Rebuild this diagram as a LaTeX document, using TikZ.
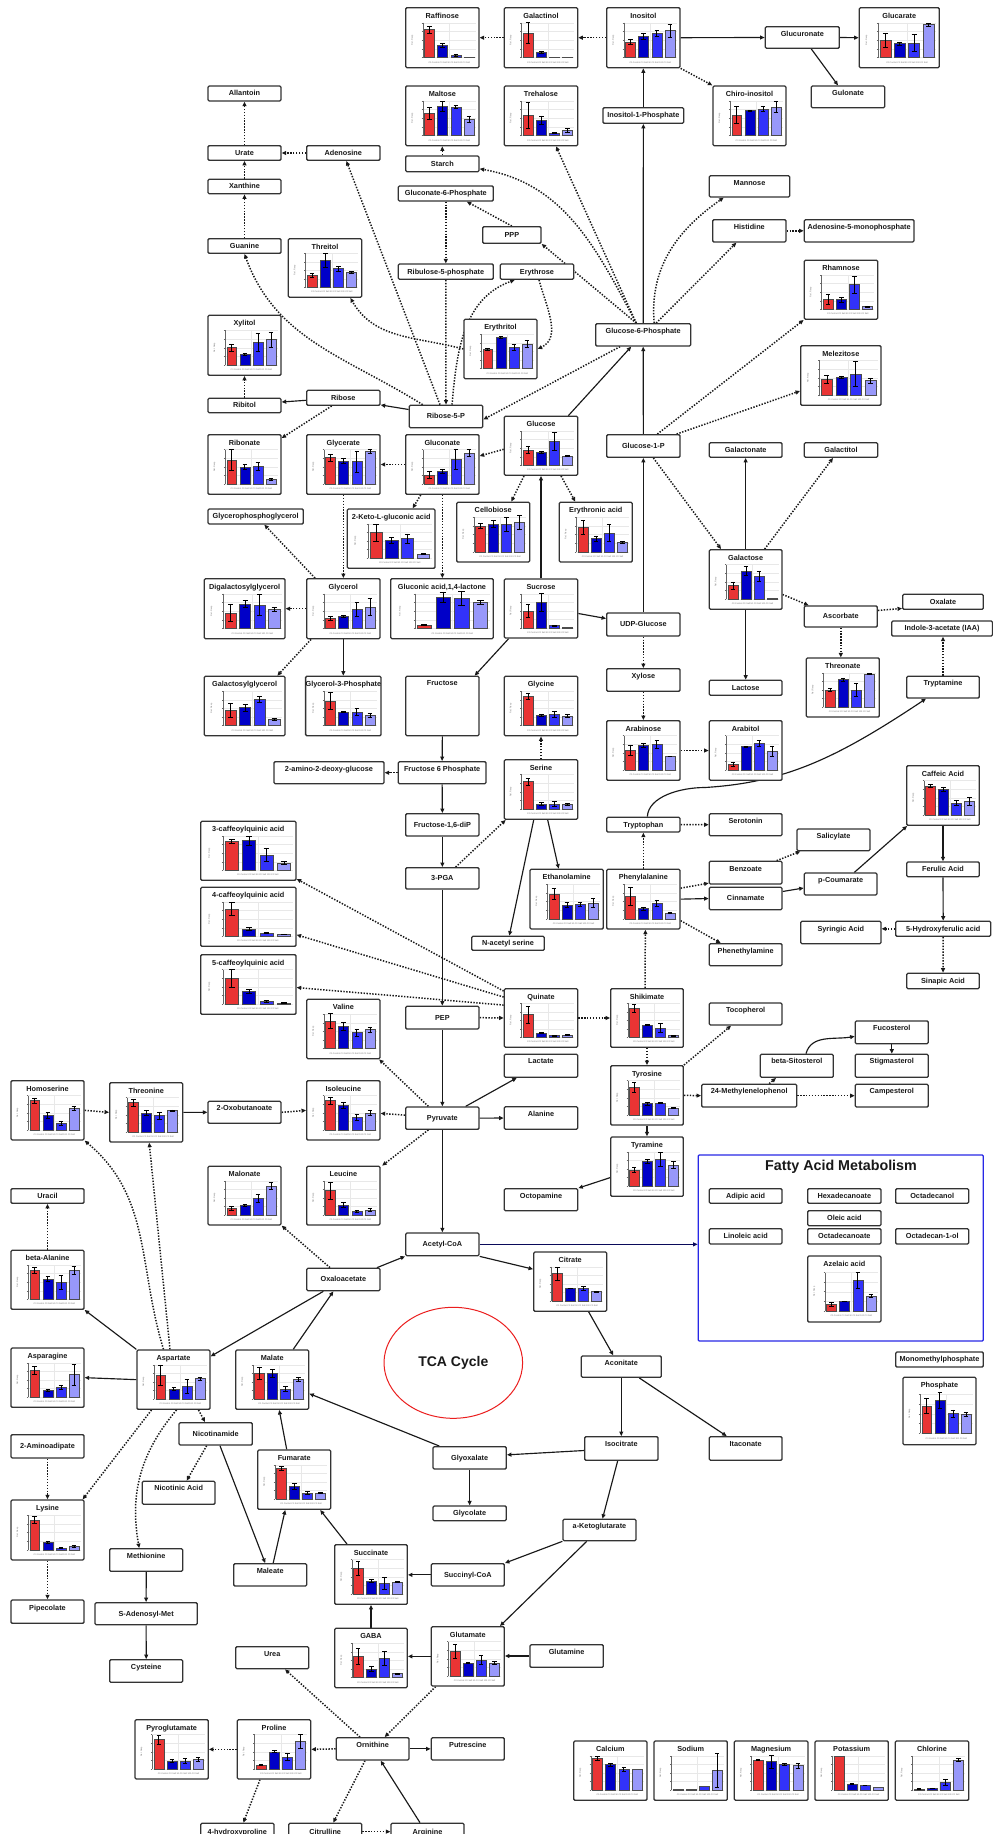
\documentclass[tikz,border=0pt]{standalone}
\usepackage{fontspec}
\setmainfont{Liberation Sans}
\usetikzlibrary{arrows.meta,calc,shapes.geometric}
\pgfdeclarelayer{bg}
\pgfsetlayers{bg,main}

\definecolor{barA}{RGB}{233,52,52}
\definecolor{barB}{RGB}{0,0,200}
\definecolor{barC}{RGB}{50,50,250}
\definecolor{barD}{RGB}{152,152,250}
\definecolor{fablue}{RGB}{40,40,230}
\definecolor{navyline}{RGB}{10,10,90}
\definecolor{tcared}{RGB}{235,30,30}

\tikzset{
  bx/.style={draw=black!80,line width=1.3pt,rounded corners=1.2pt,fill=white,inner sep=0pt,
    font=\fontsize{7.3}{8}\selectfont\bfseries,text=black!90,text height=5.3pt,text depth=0.6pt},
  tb/.code={\pgfmathsetmacro\tdp{\bxH-#1}\tikzset{inner ysep=0pt,text height=#1pt,text depth=\tdp pt}},
  sl/.style={draw=black!90,line width=1.15pt,-{Triangle[length=4.5pt,width=3.9pt]}},
  dl/.style={sl,line width=1.5pt,dash pattern=on 1.4pt off 1.5pt},
  nv/.style={sl,draw=navyline},
  gridln/.style={draw=gray!18,line width=0.3pt},
  axisln/.style={draw=black!60,line width=0.35pt},
  tinytxt/.style={font=\fontsize{2.2}{2.4}\selectfont,text=black!55,inner sep=0pt},
}

% plain box: [options]{name}{x1}{y1}{x2}{y2}{text}
\newcommand\bx[7][]{%
  \pgfmathsetmacro\bxW{#5-#3}\pgfmathsetmacro\bxH{#6-#4}%
  \node[bx,minimum width=\bxW pt,minimum height=\bxH pt,#1] (#2) at ({(#3+#5)/2},{(#4+#6)/2}) {#7};}

% box with a bar chart: {name}{x1}{y1}{x2}{y2}{title}{h/e,h/e,h/e,h/e}
\newcommand\chart[7]{%
  \bx[tb=10.6]{#1}{#2}{#3}{#4}{#5}{#6}%
  \begin{scope}[shift={(#2,#3)}]
    \pgfmathsetmacro\pL{0.235*\bxW}\pgfmathsetmacro\pR{\bxW-3.5}%
    \pgfmathsetmacro\pT{0.25*\bxH}\pgfmathsetmacro\pB{0.83*\bxH}%
    \pgfmathsetmacro\pS{(\pR-\pL)/4}\pgfmathsetmacro\pH{\pB-\pT}%
    \foreach \f in {0,0.25,0.5,0.75,1}{\draw[gridln] (\pL,{\pB-\f*\pH}) -- (\pR,{\pB-\f*\pH});}
    \draw[gridln] ({\pL+2*\pS},\pT) -- ({\pL+2*\pS},\pB);
    \draw[axisln] (\pL,\pT) -- (\pL,\pB);
    \foreach \f in {0,0.25,0.5,0.75,1}{\draw[axisln] ({\pL-1.2},{\pB-\f*\pH}) -- (\pL,{\pB-\f*\pH});}
    \node[tinytxt,rotate=90] (#1-y) at ({0.09*\bxW},{(\pT+\pB)/2}) {Rel. Resp};
    \node[tinytxt] (#1-x) at ({(\pL+\pR)/2},{0.91*\bxH}) {C0 Control C0 Salt 50 C0 Salt 100 C0 Salt};
    \foreach \hh/\ee [count=\i] in {#7}{%
      \pgfmathsetmacro\cxx{\pL+(\i-0.5)*\pS}%
      \pgfmathsetmacro\btp{\pB-\hh*\pH}%
      \pgfmathsetmacro\bwd{0.38*\pS}%
      \ifcase\i\or\def\bcol{barA}\or\def\bcol{barB}\or\def\bcol{barC}\or\def\bcol{barD}\fi
      \draw[fill=\bcol,draw=black!70,line width=0.45pt] ({\cxx-\bwd},\pB) rectangle ({\cxx+\bwd},\btp);
      \ifdim\ee pt>0pt
        \pgfmathsetmacro\ehh{\ee*\pH}%
        \draw[line width=0.6pt] (\cxx,{\btp-\ehh}) -- (\cxx,{\btp+\ehh})
          ({\cxx-0.45*\bwd},{\btp-\ehh}) -- ({\cxx+0.45*\bwd},{\btp-\ehh})
          ({\cxx-0.45*\bwd},{\btp+\ehh}) -- ({\cxx+0.45*\bwd},{\btp+\ehh});
      \fi
    }
  \end{scope}}

\begin{document}
\begin{tikzpicture}[x=1pt,y=-1pt]
\useasboundingbox (0,0) rectangle (993,1834);
\begin{pgfonlayer}{bg}
  \fill[white] (0,0) rectangle (993,1834);
\end{pgfonlayer}

% fatty acid frame and TCA ring
\node[draw=fablue,line width=1.3pt,rounded corners=1pt,minimum width=285pt,minimum height=186pt,inner sep=0pt] (fam) at (840.8,1248) {};
\node[font=\fontsize{14.3}{16}\selectfont\bfseries,text=black!90] (famtitle) at (841,1166.3) {Fatty Acid Metabolism};
\node[ellipse,draw=tcared,line width=1pt,minimum width=138.6pt,minimum height=111pt,inner sep=0pt,
  font=\fontsize{14}{16}\selectfont\bfseries,text=black!90] (tca) at (453.3,1362.8) {TCA Cycle};

% plain boxes
\bx{allantoin}{208}{86}{281}{101}{Allantoin}
\bx{urate}{208}{145.7}{281}{160.3}{Urate}
\bx{adenosine}{306.7}{145.7}{380}{160.3}{Adenosine}
\bx{starch}{405.7}{156}{479}{171.7}{Starch}
\bx{xanthine}{208}{179.3}{281}{193.7}{Xanthine}
\bx{gnp}{398.3}{186}{493.3}{201}{Gluconate-6-Phosphate}
\bx{ppp}{482.7}{226.7}{541}{243.3}{PPP}
\bx{guanine}{208}{238.7}{281}{253.3}{Guanine}
\bx{rufp}{398.3}{264}{493.3}{279.3}{Ribulose-5-phosphate}
\bx{erythrose}{500.3}{264}{573.7}{279.3}{Erythrose}
\bx[tb=9.4]{glucuronate}{765.3}{26.7}{839.3}{48.3}{Glucuronate}
\bx[tb=9.4]{gulonate}{811.3}{86}{884.7}{107.7}{Gulonate}
\bx{inop}{603}{107.7}{683.7}{123.3}{Inositol-1-Phosphate}
\bx[tb=9.4]{mannose}{709.3}{175.7}{789.7}{197}{Mannose}
\bx[tb=9.4]{histidine}{712.7}{219.7}{786}{242}{Histidine}
\bx[tb=9.4]{amp}{804.3}{219.7}{914}{242}{Adenosine-5-monophosphate}
\bx[tb=9.6]{gsp}{595.7}{323.7}{690.7}{346}{Glucose-6-Phosphate}
\bx{ribitol}{208}{398.3}{281}{412.7}{Ribitol}
\bx{ribose}{306.7}{390.3}{380}{405.3}{Ribose}
\bx{rfp}{409.3}{405.3}{482.7}{427.7}{Ribose-5-P}
\bx{gop}{606.7}{434.7}{680}{457.3}{Glucose-1-P}
\bx{galactonate}{709.3}{442.7}{782}{457.3}{Galactonate}
\bx{galactitol}{804.3}{442.7}{877.7}{457.3}{Galactitol}
\bx{gpg}{208}{509}{303.3}{524}{Glycerophosphoglycerol}
\bx{oxalate}{902.7}{594.3}{983.3}{609.3}{Oxalate}
\bx{ascorbate}{804.3}{606}{877.3}{627}{Ascorbate}
\bx{udpg}{606.7}{613}{680}{636}{UDP-Glucose}
\bx{iaa}{891.7}{621}{992.5}{636}{Indole-3-acetate (IAA)}
\bx[tb=9]{fructose}{405.7}{676.3}{479}{735.7}{Fructose}
\bx[tb=9.8]{xylose}{606.7}{668.7}{680}{691.3}{Xylose}
\bx{lactose}{709.3}{680.3}{782}{695.3}{Lactose}
\bx[tb=9]{tryptamine}{906.7}{676.3}{979.3}{698}{Tryptamine}
\bx[tb=9.8]{amdg}{274}{761.7}{384}{783.7}{2-amino-2-deoxy-glucose}
\bx[tb=9.8]{fsp}{398.3}{761.7}{486}{783.7}{Fructose 6 Phosphate}
\bx{fdp}{405.7}{813.7}{479}{836}{Fructose-1,6-diP}
\bx{tryptophan}{606.7}{817.3}{680}{832}{Tryptophan}
\bx[tb=9.4]{serotonin}{709.3}{813.7}{782}{835.7}{Serotonin}
\bx[tb=9.4]{salicylate}{797}{829}{870}{850.7}{Salicylate}
\bx[tb=10.2]{benzoate}{709.3}{861.3}{782}{884}{Benzoate}
\bx{ferulic}{906.7}{862}{979.3}{876.7}{Ferulic Acid}
\bx{pga}{405.7}{867.7}{479}{889}{3-PGA}
\bx[tb=9.8]{pcoum}{804.3}{873}{877}{895}{p-Coumarate}
\bx{cinnamate}{709.3}{887.3}{782}{909.7}{Cinnamate}
\bx[tb=10.2]{syringic}{800.7}{921.3}{881}{943.7}{Syringic Acid}
\bx{hferulic}{895.7}{921.3}{990.7}{936.3}{5-Hydroxyferulic acid}
\bx{nacetyl}{471.7}{936.3}{544.3}{950.3}{N-acetyl serine}
\bx[tb=9.4]{phenethyl}{709.3}{943.7}{782}{965.7}{Phenethylamine}
\bx{sinapic}{906.7}{973.3}{979.3}{988.7}{Sinapic Acid}
\bx[tb=9.4]{tocopherol}{709.3}{1003}{782}{1025}{Tocopherol}
\bx{pep}{405.7}{1006.3}{479}{1029}{PEP}
\bx[tb=9.4]{fucosterol}{855.3}{1021}{928.3}{1043.7}{Fucosterol}
\bx[tb=9.4]{betasito}{760.3}{1054.3}{833.3}{1077.3}{beta-Sitosterol}
\bx[tb=9.4]{stigma}{855.3}{1054.3}{928.3}{1077.3}{Stigmasterol}
\bx[tb=9.4]{lactate}{504.3}{1054.3}{577.7}{1077.3}{Lactate}
\bx[tb=9.4]{mlp}{701.7}{1084.3}{796.7}{1107}{24-Methylenelophenol}
\bx[tb=9.4]{campesterol}{855.3}{1084.3}{928.3}{1107}{Campesterol}
\bx[tb=9.4]{oxobut}{208}{1101.3}{281}{1123.3}{2-Oxobutanoate}
\bx{pyruvate}{405.7}{1107}{479}{1129.3}{Pyruvate}
\bx[tb=9.4]{alanine}{504.3}{1106.7}{577.7}{1129.3}{Alanine}
\bx{uracil}{11}{1188.7}{84}{1203.3}{Uracil}
\bx[tb=9.4]{octopamine}{504.3}{1188.7}{577.7}{1210.7}{Octopamine}
\bx{adipic}{709.3}{1188.7}{782}{1203.3}{Adipic acid}
\bx{hexadec}{807.7}{1188.7}{881}{1203.3}{Hexadecanoate}
\bx{octadecanol}{895.7}{1188.7}{968.7}{1203.3}{Octadecanol}
\bx{oleic}{807.7}{1210.7}{881}{1225.7}{Oleic acid}
\bx{linoleic}{709.3}{1228.7}{782}{1244}{Linoleic acid}
\bx{octadecanoate}{807.7}{1228.7}{881}{1244}{Octadecanoate}
\bx{octadecanonol}{895.7}{1228.7}{968.7}{1244}{Octadecan-1-ol}
\bx{acoa}{405.7}{1233}{479}{1255.7}{Acetyl-CoA}
\bx{oaa}{306.7}{1268.3}{380}{1290.7}{Oxaloacetate}
\bx{mmp}{895.7}{1352}{983.3}{1367}{Monomethylphosphate}
\bx[tb=9.2]{aconitate}{581.3}{1356}{661.3}{1377.3}{Aconitate}
\bx{nicotinamide}{179}{1422.7}{252.3}{1445}{Nicotinamide}
\bx{aminoadipate}{11}{1434.7}{84}{1458}{2-Aminoadipate}
\bx[tb=9.4]{isocitrate}{584.7}{1436.7}{658}{1460.3}{Isocitrate}
\bx[tb=9.4]{itaconate}{709.3}{1436.7}{782}{1460.3}{Itaconate}
\bx{glyoxalate}{433}{1446.7}{506.3}{1469}{Glyoxalate}
\bx[tb=9.4]{nicotinic}{142.3}{1481.3}{215}{1504.3}{Nicotinic Acid}
\bx{glycolate}{433}{1506}{506.3}{1520.7}{Glycolate}
\bx[tb=9.2]{akg}{563}{1519.3}{636}{1540.7}{a-Ketoglutarate}
\bx[tb=9.4]{methionine}{109.7}{1548.7}{182.7}{1571.3}{Methionine}
\bx[tb=9.4]{maleate}{233.7}{1563.7}{306.7}{1586}{Maleate}
\bx{succoa}{431.3}{1563.7}{504.3}{1586}{Succinyl-CoA}
\bx[tb=10.2]{pipecolate}{11}{1600}{84}{1623.3}{Pipecolate}
\bx{sam}{95}{1602.7}{197.3}{1624.7}{S-Adenosyl-Met}
\bx[tb=9.4]{glutamine}{530}{1644.7}{603.3}{1667.3}{Glutamine}
\bx[tb=9.4]{urea}{235.7}{1646.7}{308.7}{1668.7}{Urea}
\bx[tb=9.4]{cysteine}{109.7}{1659.7}{182.7}{1682.3}{Cysteine}
\bx[tb=9.4]{ornithine}{336.3}{1737.7}{409}{1760}{Ornithine}
\bx[tb=9.4]{putrescine}{431.3}{1737.7}{504.3}{1760}{Putrescine}
\bx[tb=11.2]{hyp}{200.7}{1823.3}{274}{1846}{4-hydroxyproline}
\bx[tb=11.2]{citrulline}{288.7}{1823.3}{361.7}{1846}{Citrulline}
\bx[tb=11.2]{arginine}{391}{1823.3}{464}{1846}{Arginine}

% boxes with bar charts
\chart{raff}{405.7}{7.7}{479}{67.7}{Raffinose}{0.8/0.1,0.35/0.05,0.06/0.02,0.01/0}
\chart{galactinol}{504.3}{7.7}{577.7}{67.7}{Galactinol}{0.7/0.3,0.15/0.04,0.02/0,0.01/0}
\chart{inositol}{606.7}{7.7}{680}{67.7}{Inositol}{0.45/0.07,0.6/0.09,0.7/0.09,0.77/0.19}
\chart{glucarate}{859.3}{7.7}{939.3}{67.7}{Glucarate}{0.5/0.2,0.4/0.05,0.42/0.25,0.95/0.04}
\chart{maltose}{405.7}{86}{479}{145.7}{Maltose}{0.65/0.17,0.84/0.15,0.83/0.05,0.47/0.1}
\chart{trehalose}{504.3}{86}{577.7}{145.7}{Trehalose}{0.58/0.38,0.45/0.12,0.08/0.02,0.15/0.05}
\chart{chiro}{713}{86}{786}{145.7}{Chiro-inositol}{0.6/0.25,0.72/0.01,0.77/0.08,0.83/0.17}
\chart{threitol}{288.3}{238.7}{361.7}{297.3}{Threitol}{0.35/0.05,0.8/0.2,0.55/0.08,0.45/0.03}
\chart{rhamnose}{804.3}{260.3}{877.7}{319.3}{Rhamnose}{0.3/0.15,0.28/0.08,0.72/0.25,0.08/0.02}
\chart{xylitol}{208}{315.3}{281}{375.3}{Xylitol}{0.5/0.1,0.3/0.03,0.65/0.25,0.73/0.22}
\chart{erythritol}{464}{319.3}{537}{378.7}{Erythritol}{0.55/0.03,0.9/0.03,0.62/0.1,0.72/0.1}
\chart{melezitose}{800.7}{345.7}{881}{405.3}{Melezitose}{0.45/0.12,0.53/0.03,0.62/0.35,0.42/0.08}
\chart{glucose}{504.3}{416.3}{577.7}{475.3}{Glucose}{0.45/0.1,0.38/0.02,0.7/0.27,0.27/0.02}
\chart{ribonate}{208}{434.7}{281}{494.3}{Ribonate}{0.7/0.3,0.5/0.08,0.52/0.12,0.14/0.03}
\chart{glycerate}{306.7}{434.7}{380}{494.3}{Glycerate}{0.77/0.1,0.67/0.08,0.65/0.3,0.95/0.05}
\chart{gluconate}{405.7}{434.7}{479}{494.3}{Gluconate}{0.27/0.1,0.38/0.06,0.72/0.3,0.9/0.1}
\chart{ketogluc}{347.3}{509}{435}{568.3}{2-Keto-L-gluconic acid}{0.75/0.25,0.52/0.08,0.57/0.14,0.12/0.02}
\chart{cellobiose}{456.7}{502.3}{529.7}{562}{Cellobiose}{0.75/0.07,0.8/0.1,0.8/0.2,0.86/0.2}
\chart{erythronic}{559.3}{502.3}{632.3}{562}{Erythronic acid}{0.7/0.2,0.38/0.08,0.55/0.25,0.28/0.02}
\chart{galactose}{709.3}{549.7}{782}{609.3}{Galactose}{0.4/0.1,0.82/0.12,0.67/0.15,0.02/0}
\chart{digal}{204.3}{578.7}{285}{638.7}{Digalactosylglycerol}{0.45/0.25,0.7/0.1,0.68/0.3,0.55/0.05}
\chart{glycerol}{306.7}{578.7}{380}{638.7}{Glycerol}{0.3/0.05,0.35/0.04,0.55/0.2,0.62/0.25}
\chart{glactone}{390.7}{578.7}{493.3}{638.7}{Gluconic acid,1,4-lactone}{0.1/0.02,0.9/0.15,0.88/0.2,0.75/0.05}
\chart{sucrose}{504.3}{579}{577.7}{638}{Sucrose}{0.5/0.2,0.75/0.25,0.07/0.01,0.02/0}
\chart{threonate}{806.3}{658}{879.3}{717}{Threonate}{0.5/0.05,0.8/0.05,0.5/0.2,0.97/0.02}
\chart{galgly}{204.3}{676.3}{285}{735.7}{Galactosylglycerol}{0.45/0.2,0.52/0.1,0.77/0.08,0.18/0.03}
\chart{glyp}{306.7}{676.3}{380}{735.7}{Glycerol-3-Phosphate}{0.72/0.25,0.4/0.01,0.4/0.1,0.3/0.06}
\chart{glycine}{504.3}{676.3}{577.7}{735.7}{Glycine}{0.85/0.1,0.3/0.02,0.33/0.08,0.28/0.04}
\chart{arabinose}{606.7}{720.7}{680}{780.3}{Arabinose}{0.58/0.15,0.72/0.05,0.75/0.12,0.4/0.01}
\chart{arabitol}{709.3}{720.7}{782}{780.3}{Arabitol}{0.17/0.07,0.68/0.01,0.77/0.08,0.55/0.15}
\chart{serine}{504.3}{759.7}{577.7}{819.3}{Serine}{0.8/0.1,0.15/0.04,0.15/0.07,0.13/0.03}
\chart{caffeic}{906.7}{765.7}{979.3}{825.3}{Caffeic Acid}{0.85/0.05,0.75/0.07,0.35/0.07,0.4/0.12}
\chart{cqa}{200.7}{821.3}{296}{880.3}{3-caffeoylquinic acid}{0.85/0.06,0.87/0.13,0.45/0.2,0.22/0.04}
\chart{ethanolamine}{530}{869.3}{603.3}{929}{Ethanolamine}{0.72/0.15,0.4/0.07,0.42/0.05,0.45/0.13}
\chart{phe}{606.7}{869.3}{680}{929}{Phenylalanine}{0.65/0.25,0.3/0.04,0.45/0.1,0.17/0.01}
\chart{cqb}{200.7}{887.3}{296}{946.3}{4-caffeoylquinic acid}{0.8/0.2,0.22/0.04,0.1/0.02,0.06/0.01}
\chart{cqc}{200.7}{954.7}{296}{1014.3}{5-caffeoylquinic acid}{0.75/0.25,0.37/0.05,0.08/0.02,0.04/0.01}
\chart{quinate}{504.3}{988.7}{577.7}{1047.3}{Quinate}{0.67/0.25,0.13/0.01,0.05/0.01,0.07/0.01}
\chart{shikimate}{610.7}{988.7}{683.3}{1047.3}{Shikimate}{0.85/0.12,0.37/0.02,0.28/0.12,0.05/0.01}
\chart{valine}{306.7}{999.3}{380}{1058.7}{Valine}{0.8/0.22,0.65/0.12,0.47/0.1,0.55/0.08}
\chart{tyrosine}{610.7}{1065.7}{683.3}{1125}{Tyrosine}{0.8/0.15,0.33/0.04,0.35/0.02,0.2/0.02}
\chart{homoserine}{11}{1080.7}{84}{1140}{Homoserine}{0.85/0.08,0.42/0.08,0.2/0.06,0.63/0.05}
\chart{threonine}{109.7}{1082.7}{182.7}{1142}{Threonine}{0.85/0.1,0.55/0.07,0.48/0.1,0.62/0.02}
\chart{isoleucine}{306.7}{1080.7}{380}{1140}{Isoleucine}{0.85/0.1,0.72/0.08,0.37/0.08,0.5/0.06}
\chart{tyramine}{610.7}{1137}{683.3}{1196.3}{Tyramine}{0.47/0.07,0.72/0.05,0.78/0.2,0.62/0.1}
\chart{malonate}{208}{1166.3}{281}{1225}{Malonate}{0.2/0.05,0.28/0.03,0.5/0.12,0.85/0.1}
\chart{leucine}{306.7}{1166.3}{380}{1225}{Leucine}{0.72/0.25,0.3/0.06,0.1/0.03,0.15/0.04}
\chart{balanine}{11}{1250.3}{84}{1309.3}{beta-Alanine}{0.85/0.08,0.6/0.07,0.5/0.2,0.85/0.12}
\chart{citrate}{533.7}{1252}{606.7}{1311.3}{Citrate}{0.8/0.2,0.38/0.01,0.38/0.05,0.28/0.02}
\chart{azelaic}{807.7}{1256}{881}{1322}{Azelaic acid}{0.18/0.05,0.25/0.01,0.8/0.2,0.38/0.04}
\chart{asparagine}{11}{1348}{84}{1407.3}{Asparagine}{0.78/0.12,0.2/0.02,0.3/0.06,0.66/0.3}
\chart{aspartate}{137}{1350}{210}{1409.3}{Aspartate}{0.7/0.3,0.3/0.05,0.37/0.2,0.6/0.04}
\chart{malate}{235.7}{1350}{308.7}{1409.3}{Malate}{0.76/0.18,0.75/0.12,0.3/0.08,0.58/0.06}
\chart{phosphate}{903}{1377.3}{976}{1444.7}{Phosphate}{0.7/0.2,0.85/0.2,0.5/0.1,0.48/0.05}
\chart{fumarate}{257.7}{1450}{330.7}{1509.3}{Fumarate}{0.9/0.05,0.38/0.08,0.18/0.05,0.18/0.02}
\chart{lysine}{11}{1500}{84}{1560}{Lysine}{0.85/0.1,0.22/0.02,0.05/0.01,0.1/0.02}
\chart{succinate}{334.7}{1544.7}{407.3}{1604.3}{Succinate}{0.75/0.2,0.38/0.05,0.32/0.18,0.35/0.02}
\chart{gaba}{334.7}{1628.3}{407.3}{1687.7}{GABA}{0.62/0.22,0.25/0.08,0.57/0.2,0.12/0.02}
\chart{glutamate}{431.3}{1626.7}{504.3}{1686}{Glutamate}{0.72/0.2,0.38/0.02,0.47/0.13,0.38/0.05}
\chart{pyroglu}{135}{1719.7}{208.3}{1779}{Pyroglutamate}{0.85/0.12,0.23/0.05,0.23/0.08,0.28/0.05}
\chart{proline}{237.3}{1719.7}{310.7}{1779}{Proline}{0.12/0.02,0.5/0.03,0.35/0.1,0.8/0.2}
\chart{calcium}{573.7}{1741}{647}{1800.3}{Calcium}{0.93/0.06,0.75/0.04,0.62/0.06,0.6/0}
\chart{sodium}{654}{1741}{727.3}{1800.3}{Sodium}{0.02/0,0.03/0,0.12/0,0.58/0.48}
\chart{magnesium}{734.3}{1741}{808}{1800.3}{Magnesium}{0.88/0.02,0.83/0.18,0.75/0.03,0.72/0.07}
\chart{potassium}{815}{1741}{888.3}{1800.3}{Potassium}{1.0/0,0.18/0.01,0.14/0.01,0.09/0}
\chart{chlorine}{895.3}{1741}{968.7}{1800.3}{Chlorine}{0.04/0.01,0.06/0.01,0.23/0.08,0.88/0.05}

\begin{pgfonlayer}{bg}
% inositol, sugars and pentose phosphate
\draw[dl] (galactinol.west) -- (raff.east);
\draw[dl] (inositol.west) -- (galactinol.east);
\draw[sl] (inositol.east) -- (glucuronate.west);
\draw[sl] (glucuronate.east) -- (glucarate.west);
\draw[sl] ([xshift=9pt]glucuronate.south) -- ([xshift=-10pt]gulonate.north);
\draw[dl] (inositol.south east) -- (chiro.north west);
\draw[sl] (inop.north) -- (inositol.south);
\draw[sl] (gsp.north) -- (inop.south);
\draw[sl] (gop.north) -- (gsp.south);
\draw[sl] (udpg.north) -- (gop.south);
\draw[dl] (starch.north) -- (maltose.south);
\draw[dl] ([xshift=-7pt]gsp.north) to[out=118,in=-10] ([yshift=-5pt]starch.east);
\draw[dl] ([xshift=-7pt]gsp.north) -- ([xshift=15pt]trehalose.south);
\draw[dl] ([xshift=-7pt]gsp.north) -- (ppp.south east);
\draw[dl] (ppp.north) -- ([xshift=21pt]gnp.south);
\draw[dl] (gnp.south) -- (rufp.north);
\draw[dl] (rufp.south) -- (rfp.north);
\draw[dl] ([xshift=6pt]rfp.north) to[out=85,in=200] ([xshift=15pt]erythrose.south west);
\draw[dl] ([xshift=2pt]erythrose.south) to[out=-75,in=25] (erythritol.east);
\draw[dl] ([xshift=14pt]rfp.north west) to[out=148,in=-70] (guanine.south);
\draw[dl] ([xshift=-6pt]rfp.north) -- ([xshift=3pt]adenosine.south);
\draw[dl] (adenosine.west) -- (urate.east);
\draw[dl] (xanthine.north) -- (urate.south);
\draw[dl] (urate.north) -- (allantoin.south);
\draw[dl] (guanine.north) -- (xanthine.south);
\draw[dl] (erythritol.west) to[out=165,in=-60] ([xshift=-12pt]threitol.south east);
\draw[dl] ([xshift=11pt]gsp.north) to[out=95,in=215] ([xshift=15pt]mannose.south west);
\draw[dl] ([xshift=13pt]gsp.north) -- ([xshift=-13pt]histidine.south);
\draw[dl] (histidine.east) -- (amp.west);
\draw[dl] ([xshift=14pt]gop.north) -- (rhamnose.south west);
\draw[dl] ([xshift=-4pt]gop.north east) -- ([yshift=-15.5pt]melezitose.west);
\draw[dl] ([xshift=25pt]gsp.south west) -- ([yshift=-3pt]rfp.east);
\draw[sl] ([xshift=-10pt]glucose.north east) -- ([xshift=-12pt]gsp.south);
\draw[dl] ([yshift=-3.5pt]glucose.west) -- ([yshift=8.5pt]gluconate.east);
\draw[dl] ([xshift=-17pt]glucose.south) -- ([xshift=18pt]cellobiose.north);
\draw[dl] ([xshift=20pt]glucose.south) -- ([xshift=-20.5pt]erythronic.north);
\draw[sl] (sucrose.north) -- (glucose.south);
\draw[dl] ([xshift=10pt]gop.south) -- ([xshift=-24.6pt]galactose.north);
\draw[sl] (galactose.north) -- (galactonate.south);
\draw[dl] ([xshift=19pt]galactose.north) -- ([xshift=-8pt]galactitol.south);
\draw[dl] ([yshift=-15pt]galactose.east) -- ([xshift=5pt]ascorbate.north west);
\draw[dl] ([yshift=6pt]ascorbate.east) -- ([yshift=1.5pt]oxalate.south west);
\draw[sl] (galactose.south) -- (lactose.north);
\draw[dl] (ascorbate.south) -- (ascorbate.south |- threonate.north);
\draw[dl] (tryptamine.north) -- (tryptamine.north |- iaa.south);
\draw[sl] ([xshift=4pt]tryptophan.north) .. controls +(1,-20) and +(-25,0) .. (705,787.5)
  .. controls +(80,-5) and +(-90,60) .. ([xshift=-17pt]tryptamine.south);
\draw[sl] ([yshift=-5pt]sucrose.east) -- ([yshift=6pt]udpg.west);
\draw[sl] ([xshift=5pt]sucrose.south west) -- ([xshift=-5pt]fructose.north east);
\draw[dl] (udpg.south) -- (xylose.north);
\draw[dl] (xylose.south) -- (arabinose.north);
\draw[dl] (arabinose.east) -- (arabitol.west);
% amino acids and phenylpropanoids
\draw[dl] (serine.north) -- (glycine.south);
\draw[sl] ([xshift=6.7pt]serine.south) -- ([xshift=-8pt]ethanolamine.north);
\draw[sl] ([xshift=-7.3pt]serine.south) -- ([xshift=1.3pt]nacetyl.north);
\draw[dl] ([xshift=-24pt]pga.north east) -- ([xshift=2pt]serine.south west);
\draw[dl] (tryptophan.east) -- (serotonin.west);
\draw[dl] (phe.north) -- (tryptophan.south);
\draw[dl] ([yshift=11pt]phe.east) -- ([yshift=1.5pt]benzoate.south west);
\draw[dl] ([xshift=-6pt]benzoate.north east) -- ([xshift=4pt]salicylate.south west);
\draw[sl] (phe.east) -- (cinnamate.west);
\draw[sl] ([yshift=7pt]cinnamate.east) -- ([yshift=-4pt]pcoum.west);
\draw[sl] ([xshift=13.7pt]pcoum.north) -- ([xshift=1pt]caffeic.south west);
\draw[sl] (caffeic.south) -- (ferulic.north);
\draw[sl] (ferulic.south) -- (hferulic.north);
\draw[dl] (hferulic.west) -- (hferulic.west -| syringic.east);
\draw[dl] (hferulic.south) -- (sinapic.north);
\draw[dl] ([yshift=9pt]phe.south east) -- ([xshift=12pt]phenethyl.north west);
\draw[dl] ([xshift=-2pt]shikimate.north) -- ([xshift=2pt]phe.south);
\draw[dl] (quinate.east) -- (shikimate.west);
\draw[dl] (pep.east) -- (quinate.west);
\draw[dl] ([yshift=-3pt]quinate.north west) -- ([yshift=2pt]cqa.south east);
\draw[dl] ([yshift=-9pt]quinate.north west) -- ([yshift=-18pt]cqb.east);
\draw[dl] ([yshift=-17pt]quinate.north west) -- ([yshift=-3pt]cqc.east);
\draw[dl] (shikimate.south) -- (tyrosine.north);
\draw[dl] (tyrosine.north east) -- ([xshift=-14.6pt]tocopherol.south);
\draw[dl] (tyrosine.east) -- (mlp.west);
\draw[dl] ([xshift=20pt]mlp.north) -- ([xshift=-20.8pt]betasito.south);
\draw[sl] ([xshift=9.2pt]betasito.north) to[out=75,in=190] ([yshift=-4pt]fucosterol.west);
\draw[sl] (fucosterol.south) -- (stigma.north);
\draw[dl] (mlp.east) -- (campesterol.west);
\draw[sl] (tyrosine.south) -- (tyramine.north);
\draw[sl] ([yshift=-11pt]tyramine.west) -- (octopamine.north east);
% glycolysis
\draw[sl] ([xshift=-14pt]pyruvate.north east) -- ([xshift=13pt]lactate.south west);
\draw[sl] (pyruvate.east) -- (alanine.west);
\draw[sl] (pep.south) -- (pyruvate.north);
\draw[sl] (pga.south) -- (pep.north);
\draw[sl] (fdp.south) -- (pga.north);
\draw[sl] (fsp.south) -- (fdp.north);
\draw[sl] (fructose.south) -- (fsp.north);
\draw[dl] (fsp.west) -- (amdg.east);
\draw[dl] ([yshift=3pt]pyruvate.west) -- ([yshift=-3pt]isoleucine.east);
\draw[dl] ([xshift=-14pt]pyruvate.north) -- ([xshift=-1.5pt]valine.south east);
\draw[dl] ([xshift=-14pt]pyruvate.south) -- ([xshift=1.5pt]leucine.north east);
\draw[sl] (pyruvate.south) -- (acoa.north);
\draw[sl] (threonine.east) -- (oxobut.west);
\draw[dl] (oxobut.east) -- (isoleucine.west);
\draw[dl] (homoserine.east) -- (threonine.west);
% aspartate family
\draw[dl] ([xshift=-10pt]aspartate.north) to[out=107,in=-40] (homoserine.south east);
\draw[dl] ([xshift=-3.5pt]aspartate.north) -- ([xshift=3pt]threonine.south);
\draw[dl] (balanine.north) -- (uracil.south);
\draw[sl] (aspartate.north west) -- (balanine.south east);
\draw[sl] (aspartate.west) -- (asparagine.east);
\draw[dl] ([xshift=-22pt]aspartate.south) -- ([xshift=-2pt]lysine.north east);
\draw[dl] ([xshift=3pt]aspartate.south) to[out=-130,in=100] ([xshift=-7pt]methionine.north);
\draw[dl] ([xshift=25pt]aspartate.south) -- ([xshift=-10.6pt]nicotinamide.north);
\draw[dl] ([xshift=-9pt]nicotinamide.south) -- ([xshift=8pt]nicotinic.north);
\draw[sl] ([xshift=4.3pt]nicotinamide.south) -- ([xshift=-5pt]maleate.north);
\draw[sl] ([xshift=3pt]maleate.north) -- ([xshift=-9pt]fumarate.south);
\draw[dl] (aminoadipate.south) -- (lysine.north);
\draw[dl] (lysine.south) -- (pipecolate.north);
\draw[sl] (methionine.south) -- (sam.north);
\draw[sl] (sam.south) -- (cysteine.north);
% TCA cycle
\draw[sl] ([xshift=-24pt]succinate.north) -- ([xshift=26pt]fumarate.south);
\draw[sl] ([xshift=-7.5pt]fumarate.north) -- ([xshift=7pt]malate.south);
\draw[sl] ([xshift=21pt]malate.north) -- ([xshift=-10pt]oaa.south);
\draw[sl] ([xshift=-20pt]oaa.south) -- ([yshift=-7pt]aspartate.north east);
\draw[sl] ([xshift=-3.7pt]oaa.north east) -- (acoa.south west);
\draw[dl] ([xshift=-13.35pt]oaa.north) -- (malonate.south east);
\draw[sl] ([xshift=7pt]glyoxalate.north west) -- ([yshift=-14pt]malate.east);
\draw[sl] (glyoxalate.south) -- (glycolate.north);
\draw[sl] (acoa.south east) -- ([yshift=12.5pt]citrate.west);
\draw[nv] (acoa.east) -- (acoa.east -| fam.west);
\draw[sl] ([xshift=18.5pt]citrate.south) -- ([xshift=-8pt]aconitate.north);
\draw[sl] (aconitate.south) -- (aconitate.south |- isocitrate.north);
\draw[sl] ([xshift=18pt]aconitate.south) -- ([xshift=-19pt]itaconate.north);
\draw[sl] ([yshift=-2pt]isocitrate.west) -- ([yshift=3pt]glyoxalate.east);
\draw[sl] ([xshift=-3.7pt]isocitrate.south) -- ([xshift=3pt]akg.north);
\draw[sl] (akg.south west) -- (succoa.north east);
\draw[sl] ([xshift=-12.8pt]akg.south) -- ([xshift=-5pt]glutamate.north east);
\draw[sl] (glutamine.west) -- (glutamine.west -| glutamate.east);
\draw[sl] (succoa.west) -- (succoa.west -| succinate.east);
\draw[sl] (gaba.north) -- (succinate.south);
\draw[sl] (glutamate.west) -- (glutamate.west -| gaba.east);
% urea cycle
\draw[dl] ([xshift=5pt]glutamate.south west) -- ([xshift=12pt]ornithine.north);
\draw[dl] ([xshift=-12.65pt]ornithine.north) -- ([xshift=12.8pt]urea.south);
\draw[dl] (ornithine.west) -- (proline.east);
\draw[dl] (proline.west) -- (pyroglu.east);
\draw[sl] (ornithine.east) -- (putrescine.west);
\draw[dl] ([xshift=-14pt]proline.south) -- ([xshift=6pt]hyp.north);
\draw[dl] ([xshift=-7.65pt]ornithine.south) -- ([xshift=8pt]citrulline.north);
\draw[sl] ([xshift=-7.5pt]arginine.north) -- ([xshift=8pt]ornithine.south);
\draw[dl] ([yshift=3pt]citrulline.east) -- ([yshift=3pt]arginine.west);
% glycerol and pentoses
\draw[dl] (glycerate.south) -- (glycerol.north);
\draw[dl] (gluconate.west) -- (glycerate.east);
\draw[dl] ([xshift=-21.65pt]gluconate.south) -- ([xshift=21.5pt]ketogluc.north);
\draw[dl] (gluconate.south) -- (gluconate.south |- glactone.north);
\draw[sl] ([yshift=-2.5pt]ribose.west) -- ([yshift=3.5pt]ribitol.east);
\draw[sl] ([yshift=7pt]rfp.west) -- ([yshift=1pt]ribose.south east);
\draw[dl] (ribitol.north) -- (xylitol.south);
\draw[dl] ([xshift=-11.65pt]ribose.south) -- ([yshift=-4pt]ribonate.north east);
\draw[dl] ([xshift=-28.35pt]glycerol.north) -- ([xshift=8.65pt]gpg.south);
\draw[dl] (glycerol.west) -- (digal.east);
\draw[dl] ([xshift=5pt]glycerol.south west) -- ([xshift=-8.3pt]galgly.north east);
\draw[sl] (glycerol.south) -- (glyp.north);
\end{pgfonlayer}
\end{tikzpicture}
\end{document}
